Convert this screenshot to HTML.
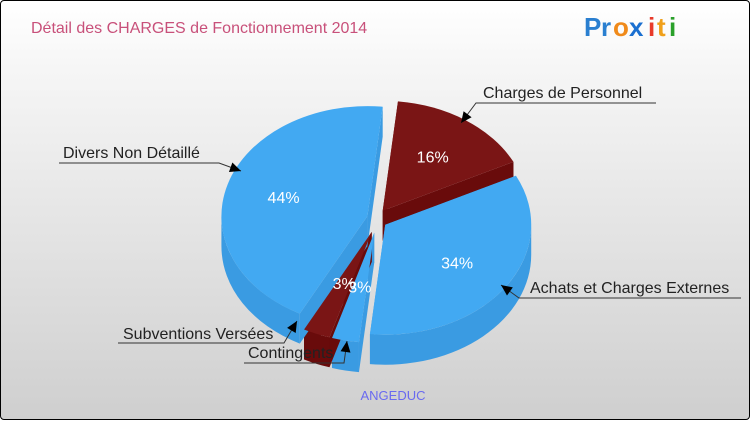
<!DOCTYPE html>
<html><head><meta charset="utf-8"><style>
body{margin:0;width:750px;height:420px;overflow:hidden;font-family:"Liberation Sans",sans-serif}
#c{position:absolute;left:0;top:0;width:748px;height:418px;border:1px solid #000;border-radius:4px;background:linear-gradient(#ffffff,#f4f4f4 20%,#cfcfcf)}
</style></head><body>
<div id="c">
<svg id="svg" width="750" height="420" xmlns="http://www.w3.org/2000/svg">
<text x="30" y="32" font-size="16" fill="#c8507a">Détail des CHARGES de Fonctionnement 2014</text>
<g font-size="26" font-weight="bold">
<text x="583" y="35" fill="#2a7fd0">P</text><text x="600" y="35" fill="#2a7fd0">r</text><text x="612" y="35" fill="#f08a1a">o</text><text x="628" y="35" fill="#1a6fd0">x</text><text x="647" y="35" fill="#e83a2a">i</text><text x="656" y="35" fill="#f0a01a">t</text><text x="668" y="35" fill="#2aa02a">i</text>
</g>
<g id="sides"></g><g id="tops"></g><g id="labels"></g>
<text x="392" y="399" font-size="13" fill="#6a6af0" text-anchor="middle">ANGEDUC</text>
</svg></div>
<script>
const categories=["Charges de Personnel","Achats et Charges Externes","Contingents","Subventions Versées","Divers Non Détaillé"];
const values=[16,34,3,3,44];
const colors=["red","blue","blue","red","blue"];
const NS="http://www.w3.org/2000/svg";
const cx=376,cy=218,rx=146,ry=110,depth=30,start=-84;
const explode=[10,10,14,14,10];
const pal={red:["#7a1515","#690b0b"],blue:["#42a9f2","#3a9be2"]};
const total=values.reduce((a,b)=>a+b,0);
const sides=document.getElementById('sides'),tops=document.getElementById('tops'),labels=document.getElementById('labels');
function pt(ox,oy,a,dy){const r=a*Math.PI/180;return [ox+rx*Math.cos(r),oy+ry*Math.sin(r)+(dy||0)];}
function mk(tag,attrs,parent){const e=document.createElementNS(NS,tag);for(const k in attrs)e.setAttribute(k,attrs[k]);parent.appendChild(e);return e;}
let ang=start;
values.forEach((v,i)=>{
  const a1=ang,a2=ang+v/total*360;ang=a2;
  const mid=(a1+a2)/2*Math.PI/180;
  const ox=cx+explode[i]*Math.cos(mid),oy=cy+explode[i]*Math.sin(mid);
  const [top,side]=pal[colors[i]];
  const p1=pt(ox,oy,a1),p2=pt(ox,oy,a2);
  [p1,p2].forEach(p=>{
    const f=mk('polygon',{points:`${ox},${oy} ${p[0]},${p[1]} ${p[0]},${p[1]+depth} ${ox},${oy+depth}`,fill:side},sides);
    
    
  });
  const ranges=[];
  for(const off of [0,360]){const lo=Math.max(a1,off),hi=Math.min(a2,off+180);if(hi>lo)ranges.push([lo,hi]);}
  ranges.forEach(([lo,hi])=>{
    const q1=pt(ox,oy,lo),q2=pt(ox,oy,hi);
    const w=mk('path',{d:`M${q1[0]},${q1[1]} A${rx},${ry} 0 0 1 ${q2[0]},${q2[1]} L${q2[0]},${q2[1]+depth} A${rx},${ry} 0 0 0 ${q1[0]},${q1[1]+depth} Z`,fill:side},sides);
    
    
  });
  const large=(a2-a1)>180?1:0;
  const t=mk('path',{d:`M${ox},${oy} L${p1[0]},${p1[1]} A${rx},${ry} 0 ${large} 1 ${p2[0]},${p2[1]} Z`,fill:top},tops);
  
  
  const lr=(v<5)?0.5:0.6;
  const lx=ox+rx*lr*Math.cos(mid),ly=oy+ry*lr*Math.sin(mid);
  const tx=mk('text',{x:lx,y:ly+6,'font-size':16,fill:'#fff','text-anchor':'middle'},labels);
  tx.textContent=Math.round(v/total*100)+'%';
  
  
});
const callouts=[
 {t:categories[0],tx:482,ty:97,lx1:475,lx2:655,ly:102,ax:460,ay:122},
 {t:categories[1],tx:529,ty:292,lx1:518,lx2:740,ly:297,ax:500,ay:284},
 {t:categories[4],tx:62,ty:157,lx1:58,lx2:218,ly:162,ax:240,ay:170},
 {t:categories[3],tx:122,ty:338,lx1:117,lx2:283,ly:342,ax:296,ay:320},
 {t:categories[2],tx:247,ty:357,lx1:243,lx2:343,ly:362,ax:346,ay:340}
];
callouts.forEach((c,i)=>{
  const tx=mk('text',{x:c.tx,y:c.ty,'font-size':16,fill:'#222'},labels);
  tx.textContent=c.t;
  
  
  const endX=(c.ax>c.lx2)?c.lx2:c.lx1;
  const l=mk('polyline',{points:`${c.lx1===endX?c.lx2:c.lx1},${c.ly} ${endX},${c.ly} ${c.ax},${c.ay}`,fill:'none',stroke:'#333','stroke-width':1},labels);
  
  
  const ang2=Math.atan2(c.ay-c.ly,c.ax-endX);
  const s=11,w=5;
  const bx=c.ax-s*Math.cos(ang2),by=c.ay-s*Math.sin(ang2);
  const a=mk('polygon',{points:`${c.ax},${c.ay} ${bx-w*Math.sin(ang2)},${by+w*Math.cos(ang2)} ${bx+w*Math.sin(ang2)},${by-w*Math.cos(ang2)}`,fill:'#000'},labels);
  
  
});
</script>
</body></html>
